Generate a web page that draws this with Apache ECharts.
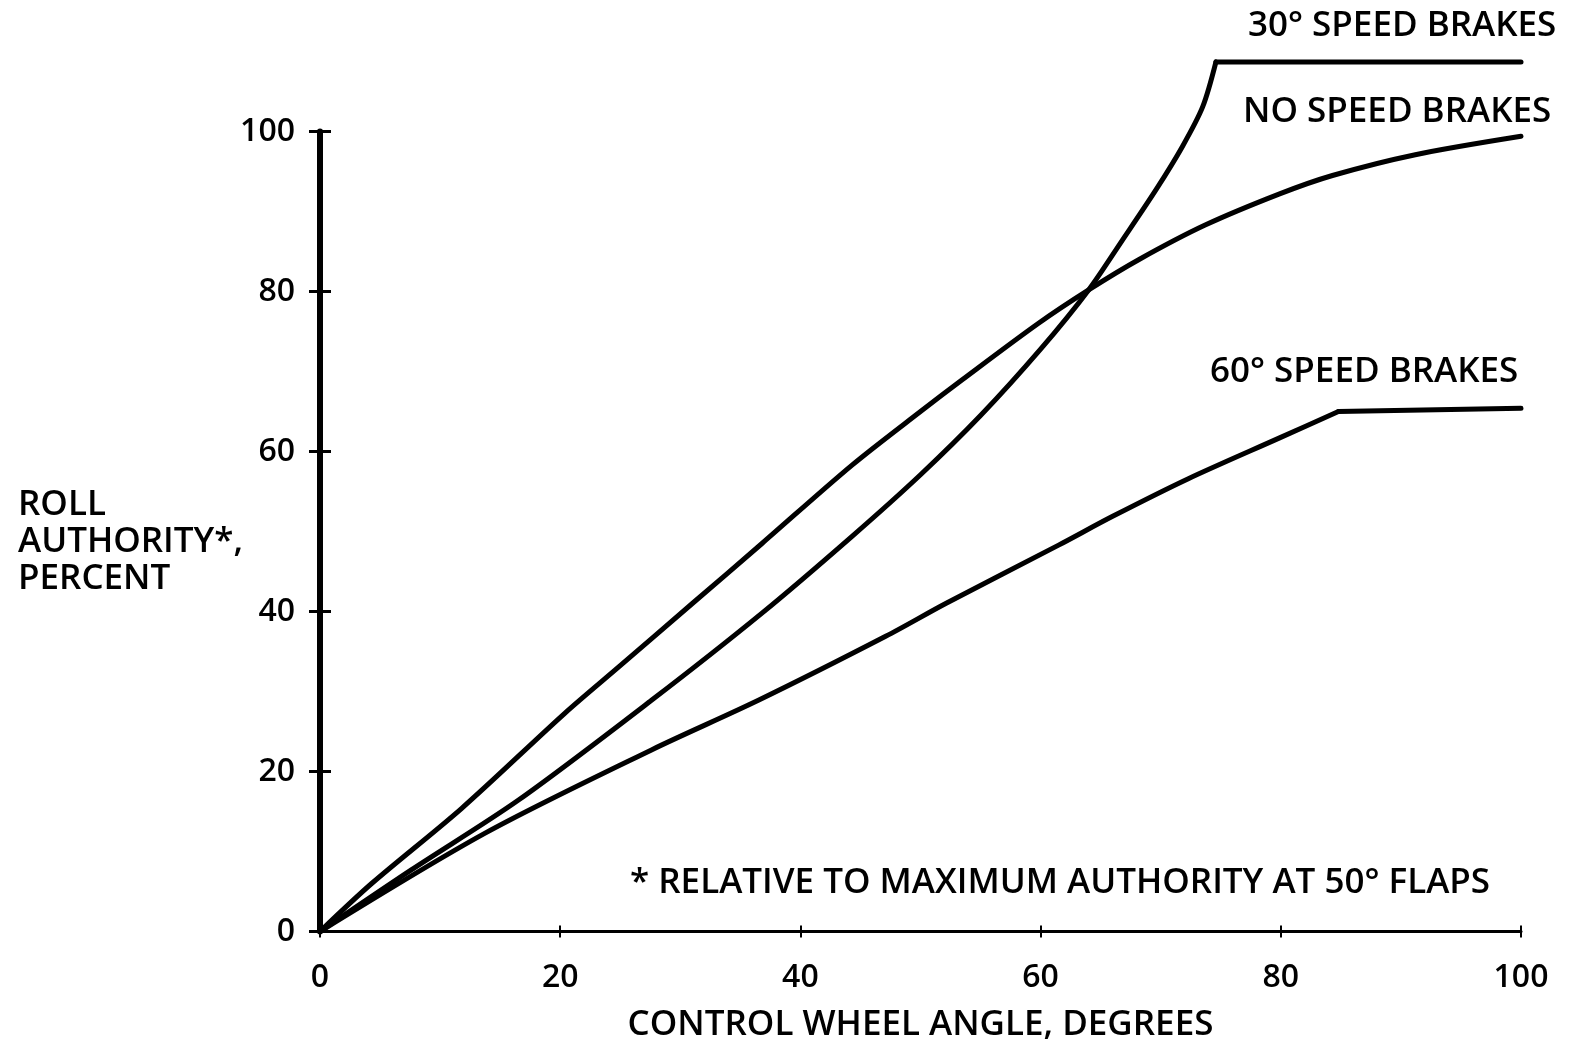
<!DOCTYPE html>
<html>
<head>
<meta charset="utf-8">
<script src="https://cdn.jsdelivr.net/npm/echarts@6/dist/echarts.min.js"></script>
<style>
html,body{margin:0;padding:0;background:#fff;overflow:hidden;}
#chart{width:1570px;height:1041px;}
</style>
</head>
<body>
<div id="chart"></div>
<script>
// Tick labels
const xTickValues = [0, 20, 40, 60, 80, 100];
const yTickValues = [0, 20, 40, 60, 80, 100];

// NO SPEED BRAKES
const noBrakesX = [0, 4.3, 11.8, 20.4, 24.9, 31, 36.8, 44.3, 50, 53.5, 59.8, 64, 68.2, 73.7, 79.9, 84.3, 91.2, 100];
const noBrakesY = [0, 6.0, 15.4, 27.3, 33.1, 41.0, 48.5, 58.3, 65.0, 69.0, 76.0, 80.2, 84.0, 88.3, 92.2, 94.5, 97.1, 99.4];

// 30° SPEED BRAKES (rising part, then saturated plateau)
const brakes30X = [0, 7.6, 16.5, 27.6, 36.8, 44.3, 50, 55, 60, 64.0, 66.8, 69.6, 71.8, 73.5, 74.6];
const brakes30Y = [0, 7.7, 16.4, 28.9, 39.8, 49.4, 57.1, 64.5, 72.8, 80.2, 86.4, 92.7, 98.1, 103.1, 108.7];
const brakes30FlatX = [74.6, 100];
const brakes30FlatY = [108.7, 108.7];

// 60° SPEED BRAKES (rising part, then plateau)
const brakes60X = [0, 13.75, 27.6, 36.5, 47.1, 52.1, 61.5, 66, 72.3, 79.9, 84.8];
const brakes60Y = [0, 12.3, 22.7, 28.9, 36.9, 41.0, 48.3, 51.9, 56.6, 61.7, 65.0];
const brakes60FlatX = [84.8, 100];
const brakes60FlatY = [65.0, 65.4];

const zip = (xs, ys) => xs.map((x, i) => [x, ys[i]]);

const FONT = '"Open Sans", "Noto Sans", sans-serif';
const WEIGHT = 600;
const chart = echarts.init(document.getElementById('chart'), null, {renderer: 'canvas'});

const lineSeries = (name, xs, ys, smooth) => ({
  name: name,
  type: 'line',
  data: zip(xs, ys),
  showSymbol: false,
  clip: false,
  smooth: smooth,
  lineStyle: {color: '#000', width: 5, cap: 'round', join: 'round'},
  xAxisIndex: 0,
  yAxisIndex: 0,
  animation: false
});

const textEl = (text, x, y, size) => ({
  type: 'text',
  x: x,
  y: y,
  style: {
    text: text,
    fill: '#000',
    font: WEIGHT + ' ' + size + 'px ' + FONT,
    align: 'left',
    verticalAlign: 'middle'
  }
});

chart.setOption({
  animation: false,
  backgroundColor: '#fff',
  grid: {left: 320, right: 49, top: 131.5, bottom: 109.5, containLabel: false, outerBoundsMode: 'none'},
  xAxis: [{
    type: 'value', min: 0, max: 100, interval: 20, position: 'bottom',
    axisLine: {show: true, lineStyle: {color: '#000', width: 3}},
    axisTick: {show: true, inside: false, length: 6, lineStyle: {color: '#000', width: 2}},
    axisLabel: {show: true, color: '#000', fontSize: 32, fontWeight: WEIGHT, fontFamily: FONT, margin: 30,
      formatter: v => xTickValues.includes(v) ? String(v) : ''},
    splitLine: {show: false},
    name: 'CONTROL WHEEL ANGLE, DEGREES',
    nameLocation: 'middle', nameGap: 76,
    nameTextStyle: {color: '#000', fontSize: 35, fontWeight: WEIGHT, fontFamily: FONT}
  }, {
    type: 'value', min: 0, max: 100, interval: 20, position: 'bottom', offset: 0,
    axisLine: {show: false},
    axisTick: {show: true, inside: true, length: 6, lineStyle: {color: '#000', width: 2}},
    axisLabel: {show: false},
    splitLine: {show: false}
  }],
  yAxis: [{
    type: 'value', min: 0, max: 100, interval: 20, position: 'left',
    axisLine: {show: true, lineStyle: {color: '#000', width: 6}},
    axisTick: {show: true, inside: false, length: 11, lineStyle: {color: '#000', width: 3}},
    axisLabel: {show: true, color: '#000', fontSize: 32, fontWeight: WEIGHT, fontFamily: FONT, margin: 25,
      formatter: v => yTickValues.includes(v) ? String(v) : ''},
    splitLine: {show: false}
  }, {
    type: 'value', min: 0, max: 100, interval: 20, position: 'left', offset: 0,
    axisLine: {show: false},
    axisTick: {show: true, inside: true, length: 11, lineStyle: {color: '#000', width: 3}},
    axisLabel: {show: false},
    splitLine: {show: false}
  }],
  series: [
    lineSeries('NO SPEED BRAKES', noBrakesX, noBrakesY, 0.3),
    lineSeries('30° SPEED BRAKES', brakes30X, brakes30Y, 0.3),
    lineSeries('30° SPEED BRAKES', brakes30FlatX, brakes30FlatY, false),
    lineSeries('60° SPEED BRAKES', brakes60X, brakes60Y, 0.3),
    lineSeries('60° SPEED BRAKES', brakes60FlatX, brakes60FlatY, false)
  ],
  graphic: [
    textEl('30° SPEED BRAKES', 1248, 26, 35),
    textEl('NO SPEED BRAKES', 1243, 112, 35),
    textEl('60° SPEED BRAKES', 1210, 372, 35),
    textEl('* RELATIVE TO MAXIMUM AUTHORITY AT 50° FLAPS', 630, 883, 35),
    textEl('ROLL', 18, 505, 35),
    textEl('AUTHORITY*,', 18, 542, 35),
    textEl('PERCENT', 18, 579, 35)
  ]
});
</script>
</body>
</html>
